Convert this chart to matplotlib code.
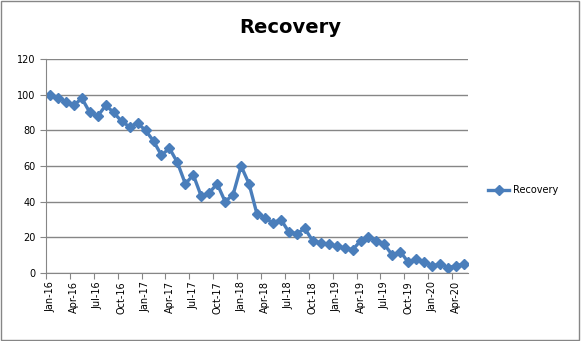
import matplotlib.pyplot as plt
from matplotlib.lines import Line2D

months = ["Jan", "Feb", "Mar", "Apr", "May", "Jun", "Jul", "Aug", "Sep", "Oct", "Nov", "Dec"]
labels = [f"{m}-{y}" for y in range(16, 21) for m in months][:53]

recovery = [100, 98, 96, 94, 98, 90, 88, 94, 90, 85, 82, 84,
            80, 74, 66, 70, 62, 50, 55, 43, 45, 50, 40, 44,
            60, 50, 33, 31, 28, 30, 23, 22, 25, 18, 17, 16,
            15, 14, 13, 18, 20, 18, 16, 10, 12, 6, 8, 6,
            4, 5, 3, 4, 5]

line_color = "#4A7EBB"
grid_color = "#868686"

fig = plt.figure(figsize=(5.81, 3.41), dpi=100)
ax = fig.add_axes([0.0792, 0.1994, 0.7263, 0.6276])

x = list(range(len(recovery)))
ax.plot(x, recovery, color=line_color, lw=2.4, marker="D", ms=5.5,
        markeredgecolor=line_color, markerfacecolor=line_color)

ax.set_xlim(-0.5, len(recovery) - 0.5)
ax.set_ylim(0, 120)
ax.set_yticks(range(0, 121, 20))
ax.yaxis.grid(True, color=grid_color, lw=1)
ax.set_axisbelow(True)

# tick marks between categories, labels centred on them
ax.set_xticks([i - 0.5 for i in range(0, len(recovery), 3)])
ax.set_xticklabels([])
ax.set_xticks(list(range(0, len(recovery), 3)), minor=True)
ax.set_xticklabels(labels[::3], minor=True, rotation=90, fontsize=7)
ax.tick_params(axis="x", which="major", length=4, color=grid_color, direction="out")
ax.tick_params(axis="x", which="minor", length=0, pad=6)
ax.tick_params(axis="y", length=4, color=grid_color, labelsize=7, direction="out")

for side in ["top", "right"]:
    ax.spines[side].set_visible(False)
for side in ["left", "bottom"]:
    ax.spines[side].set_color(grid_color)

fig.text(0.499, 0.918, "Recovery", ha="center", va="center",
         fontsize=14, fontweight="bold")

handle = Line2D([], [], color=line_color, lw=2.4, marker="D", ms=5.5)
fig.legend([handle], ["Recovery"], loc="center left", bbox_to_anchor=(0.825, 0.443),
           frameon=False, fontsize=7, handlelength=2.2, handletextpad=0.4)

# outer border
fig.patches.append(plt.Rectangle((0.002, 0.003), 0.995, 0.994, transform=fig.transFigure,
                                 fill=False, edgecolor=grid_color, lw=1))

fig.savefig("out.png", dpi=100)
